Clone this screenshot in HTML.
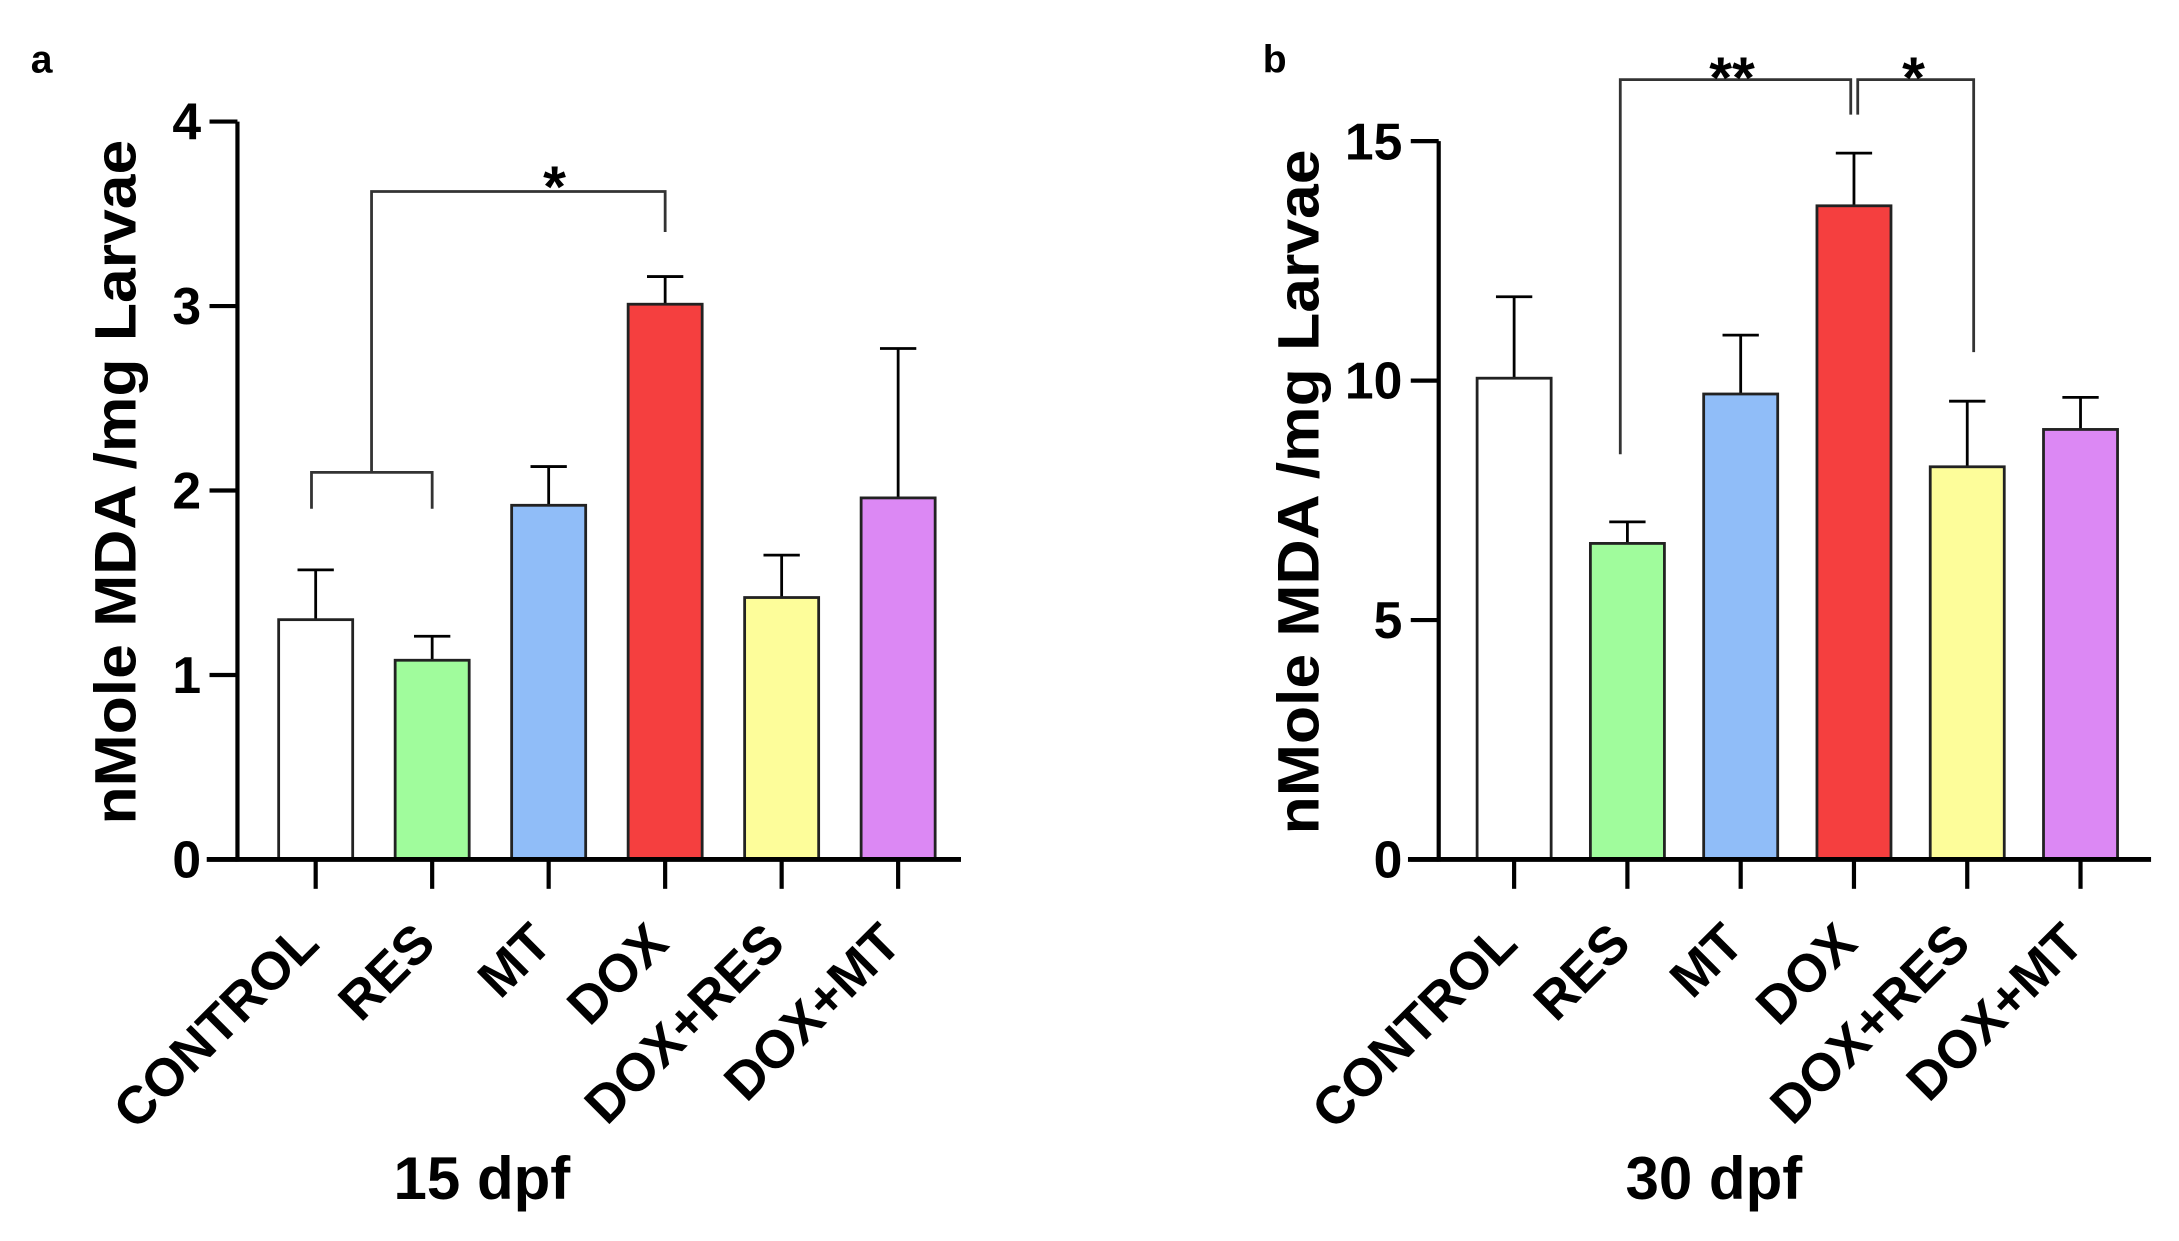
<!DOCTYPE html>
<html><head><meta charset="utf-8"><style>
html,body{margin:0;padding:0;background:#fff;}
svg{display:block;font-family:"Liberation Sans",Arial,sans-serif;font-weight:bold;}
</style></head><body>
<svg id="fig" width="2179" height="1241" viewBox="0 0 1560 888" preserveAspectRatio="none" xmlns="http://www.w3.org/2000/svg"></svg>
<script>
const categories = ["CONTROL","RES","MT","DOX","DOX+RES","DOX+MT"];
const colors = ["#ffffff","#a0fc9c","#90bdf8","#f53f3f","#fdfd9a","#dc88f4"];
const meansA = [1.30, 1.08, 1.92, 3.01, 1.42, 1.96];
const errA   = [0.27, 0.13, 0.21, 0.15, 0.23, 0.81];
const ticksA = [0,1,2,3,4];
const meansB = [10.05, 6.6, 9.72, 13.65, 8.2, 8.98];
const errB   = [1.7, 0.45, 1.23, 1.1, 1.37, 0.67];
const ticksB = [0,5,10,15];

const NS="http://www.w3.org/2000/svg";
const svg=document.getElementById('fig');
function mk(tag,attrs,parent){const e=document.createElementNS(NS,tag);for(const k in attrs)e.setAttribute(k,attrs[k]);(parent||svg).appendChild(e);return e;}

function panel(cfg){
  const g=mk('g',{});
  
  
  const y=v=>cfg.y0-(v/cfg.max)*(cfg.y0-cfg.yTop);
  const x=i=>cfg.x0+i*cfg.step;
  cfg.means.forEach((m,i)=>{
    const e=cfg.errs[i];
    const el=mk('line',{x1:x(i),x2:x(i),y1:y(m),y2:y(m+e),stroke:'#000','stroke-width':2},g);
    
    
    const cap=mk('line',{x1:x(i)-13,x2:x(i)+13,y1:y(m+e),y2:y(m+e),stroke:'#000','stroke-width':2},g);
    
    
    const r=mk('rect',{x:x(i)-26.5,y:y(m),width:53,height:cfg.y0-y(m),fill:colors[i],stroke:'#222','stroke-width':2},g);
    
    
    const t=mk('line',{x1:x(i),x2:x(i),y1:cfg.y0,y2:cfg.y0+21,stroke:'#000','stroke-width':3},g);
    
    
    const ax=x(i)+4, ay=cfg.y0+62;
    const lb=mk('text',{x:ax,y:ay,'text-anchor':'end','font-size':38,transform:`rotate(-45 ${ax} ${ay})`},g);
    lb.textContent=categories[i];
    
    
  });
  const ya=mk('line',{x1:cfg.axX,x2:cfg.axX,y1:cfg.yTop,y2:cfg.y0+1.5,stroke:'#000','stroke-width':3},g);
  
  
  const xa=mk('line',{x1:cfg.axX-22,x2:cfg.xEnd,y1:cfg.y0,y2:cfg.y0,stroke:'#000','stroke-width':3.5},g);
  
  
  cfg.ticks.forEach(v=>{
    const t=mk('line',{x1:cfg.axX-20,x2:cfg.axX,y1:y(v),y2:y(v),stroke:'#000','stroke-width':3},g);
    
    
    const tl=mk('text',{x:cfg.axX-26,y:y(v)+13,'text-anchor':'end','font-size':37},g);
    tl.textContent=v;
    
    
  });
  const yt=mk('text',{x:cfg.titleX,y:cfg.titleY,'text-anchor':'middle','font-size':42,textLength:490,lengthAdjust:'spacingAndGlyphs',transform:`rotate(-90 ${cfg.titleX} ${cfg.titleY})`},g);
  yt.textContent='nMole MDA /mg Larvae';
  
  
  const xt=mk('text',{x:cfg.xtX,y:858,'text-anchor':'middle','font-size':43},g);
  xt.textContent=cfg.xtitle;
  
  
  const pl=mk('text',{x:cfg.plX,y:52,'font-size':28},g);
  pl.textContent=cfg.letter;
  
  
  return {g,y,x};
}

const A=panel({name:'panel-a',means:meansA,errs:errA,ticks:ticksA,max:4,y0:615,yTop:87,x0:226,step:83.4,axX:170,xEnd:688,titleX:97,titleY:345,xtX:345,xtitle:'15 dpf',letter:'a',plX:22});
const B=panel({name:'panel-b',means:meansB,errs:errB,ticks:ticksB,max:15,y0:615,yTop:101,x0:1084,step:81.1,axX:1030,xEnd:1540,titleX:944,titleY:352,xtX:1227,xtitle:'30 dpf',letter:'b',plX:904});

function path(d,name,g){const p=mk('path',{d,fill:'none',stroke:'#333','stroke-width':2},g);return p;}
function star(x,y,s,name,g){const t=mk('text',{x,y,'text-anchor':'middle','font-size':42},g);t.textContent=s;}
path(`M${A.x(0)-3} 364 V338 H${A.x(1)} V364`,'bracket-control-res',A.g);
path(`M266 338 V137 H${A.x(3)} V166`,'bracket-significance-a',A.g);
star(397,148,'*','significance-star-a',A.g);
path(`M1160 325 V57 H1325 V82`,'bracket-res-dox',B.g);
path(`M1330 82 V57 H1413 V252`,'bracket-dox-doxres',B.g);
star(1240,70,'**','significance-stars-b1',B.g);
star(1370,70,'*','significance-star-b2',B.g);
</script>
</body></html>
